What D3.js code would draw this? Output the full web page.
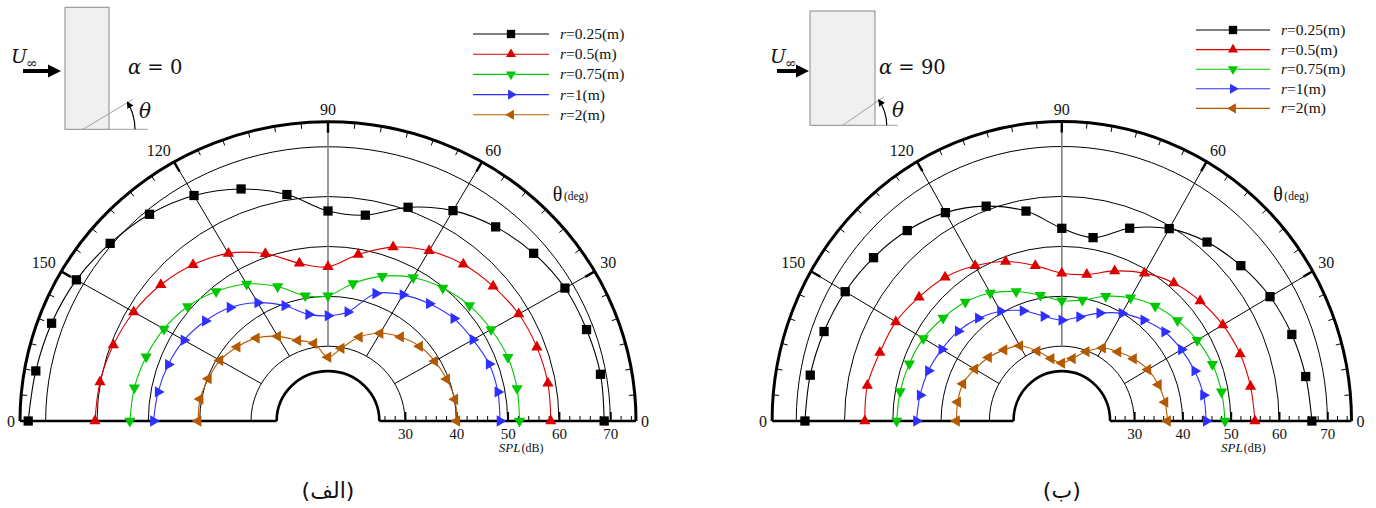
<!DOCTYPE html>
<html>
<head>
<meta charset="utf-8">
<script src="https://cdn.jsdelivr.net/npm/d3@7"></script>
<style>
  body { margin: 0; background: #fff; }
  svg { display: block; font-family: "Liberation Serif", "Times New Roman", serif; }
  text { fill: #111; }
</style>
</head>
<body>
<svg id="fig" width="1376" height="508"></svg>
<script>
// ---- data -------------------------------------------------------------
// observer angle theta (deg), one value per marker
const angles = [0, 10, 20, 30, 40, 50, 60, 70, 80, 90, 100, 110, 120, 130, 140, 150, 160, 170, 180];

// SPL (dB) at each angle, alpha = 0
const a0_r025 = [68.8, 68.9, 68.6, 68.3, 67.3, 65.8, 63.7, 60.6, 56.9, 57.1, 61.1, 64.5, 67.2, 69.1, 70.4, 71.6, 72.3, 72.8, 73.4];
const a0_r05  = [58.4, 58.5, 58.3, 57.9, 57.0, 56.0, 54.4, 52.1, 48.9, 45.9, 47.1, 50.7, 53.8, 55.9, 57.5, 58.7, 59.5, 60.1, 60.4];
const a0_r075 = [52.3, 52.4, 52.3, 51.7, 51.0, 49.8, 48.2, 45.9, 43.0, 40.1, 40.5, 43.7, 46.7, 48.9, 50.7, 51.9, 52.7, 53.3, 53.6];
const a0_r1   = [48.5, 48.6, 48.4, 47.6, 47.0, 45.7, 44.2, 42.2, 37.2, 36.1, 36.7, 39.6, 42.4, 44.7, 46.2, 47.4, 48.1, 48.6, 49.0];
const a0_r2   = [40.1, 40.1, 39.6, 39.0, 38.3, 37.0, 35.3, 32.9, 29.8, 27.8, 30.8, 32.2, 34.6, 36.7, 38.1, 39.3, 39.8, 40.3, 40.3];

// SPL (dB) at each angle, alpha = 90
const a90_r025 = [66.8, 66.3, 65.7, 64.8, 63.4, 61.8, 59.5, 56.1, 52.3, 53.6, 57.7, 60.8, 63.2, 64.8, 65.9, 66.8, 67.4, 67.9, 68.2];
const a90_r05  = [55.0, 54.7, 54.3, 53.5, 52.4, 51.1, 49.2, 47.0, 44.8, 44.6, 46.6, 49.0, 50.9, 52.6, 53.6, 54.7, 55.1, 55.9, 55.8];
const a90_r075 = [48.8, 48.6, 48.2, 47.4, 46.3, 45.1, 43.5, 41.6, 39.6, 39.1, 40.6, 42.6, 44.6, 46.1, 47.1, 48.1, 48.6, 49.0, 49.2];
const a90_r1   = [44.9, 44.8, 44.3, 43.6, 42.8, 41.4, 39.9, 38.0, 36.2, 35.2, 36.3, 38.5, 40.4, 41.9, 43.0, 43.7, 44.4, 44.8, 45.1];
const a90_r2   = [36.9, 36.7, 36.3, 35.6, 34.4, 33.1, 31.9, 29.8, 27.7, 26.6, 27.7, 29.9, 32.4, 33.6, 34.8, 35.8, 36.8, 36.9, 36.8];

const seriesNames = ["0.25", "0.5", "0.75", "1", "2"];

// axes
const splDomain   = [25, 75];
const splGrid     = [30, 40, 50, 60, 70];
const splTicks    = [30, 40, 50, 60, 70];
const splMinor    = [26, 28, 32, 34, 36, 38, 42, 44, 46, 48, 52, 54, 56, 58, 62, 64, 66, 68, 72, 74];
const spokeAngles = [30, 60, 90, 120, 150];
const angleTicks  = [0, 30, 60, 90, 120, 150, 180];
const angleLabels = ["0", "30", "60", "90", "120", "150", "0"];
const angleMinor  = [5, 10, 15, 20, 25, 35, 40, 45, 50, 55, 65, 70, 75, 80, 85, 95, 100, 105, 110, 115, 125, 130, 135, 140, 145, 155, 160, 165, 170, 175];

// ---- styles -------------------------------------------------------------
const colors  = ["#000000", "#dc0000", "#00c800", "#2f2fff", "#b35a00"];
const symbols = [
  { type: d3.symbolSquare,   size: 86, rot: 0 },
  { type: d3.symbolTriangle, size: 55, rot: 0 },
  { type: d3.symbolTriangle, size: 55, rot: 180 },
  { type: d3.symbolTriangle, size: 55, rot: 90 },
  { type: d3.symbolTriangle, size: 55, rot: -90 }
];

const panels = [
  { cx: 328, cy: 421, Rx: 308, Ry: 299.3,
    data: [a0_r025, a0_r05, a0_r075, a0_r1, a0_r2],
    legend: { x0: 473, x1: 549, xt: 560, y0: 34, dy: 20.2 },
    title: "(الف)" },
  { cx: 1061.8, cy: 421, Rx: 289.7, Ry: 299.5,
    data: [a90_r025, a90_r05, a90_r075, a90_r1, a90_r2],
    legend: { x0: 1196, x1: 1270, xt: 1281, y0: 30, dy: 19.6 },
    title: "(ب)" }
];

const svg = d3.select("#fig");
const toRad = d3.scaleLinear().domain([0, 180]).range([0, Math.PI]);

function drawPanel(p) {
  const g = svg.append("g");
  const rx = d3.scaleLinear().domain(splDomain).range([p.Rx / 6, p.Rx]);
  const ry = d3.scaleLinear().domain(splDomain).range([p.Ry / 6, p.Ry]);
  const px = (deg, v) => p.cx + rx(v) * Math.cos(toRad(deg));
  const py = (deg, v) => p.cy - ry(v) * Math.sin(toRad(deg));
  const halfEllipse = v =>
    `M${p.cx + rx(v)},${p.cy}A${rx(v)},${ry(v)} 0 0 0 ${p.cx - rx(v)},${p.cy}`;

  // circular grid
  g.append("g").selectAll("path").data(splGrid).join("path")
    .attr("d", halfEllipse).attr("fill", "none")
    .attr("stroke", "#000").attr("stroke-width", 1);

  // radial grid lines
  g.append("g").selectAll("line").data(spokeAngles).join("line")
    .attr("x1", d => px(d, splGrid[0])).attr("y1", d => py(d, splGrid[0]))
    .attr("x2", d => px(d, splDomain[1])).attr("y2", d => py(d, splDomain[1]))
    .attr("stroke", d => d === 90 ? "#808080" : "#000")
    .attr("stroke-width", d => d === 90 ? 1.6 : 1);

  // outer and inner boundaries
  g.append("path").attr("d", halfEllipse(splDomain[1]))
    .attr("fill", "none").attr("stroke", "#000").attr("stroke-width", 3);
  g.append("path").attr("d", halfEllipse(splDomain[0]))
    .attr("fill", "none").attr("stroke", "#000").attr("stroke-width", 2.6);

  // ticks on the outer boundary (pointing inward)
  const tickAt = (deg, len) => {
    const a = toRad(deg);
    return {
      x1: p.cx + rx(splDomain[1]) * Math.cos(a), y1: p.cy - ry(splDomain[1]) * Math.sin(a),
      x2: p.cx + (rx(splDomain[1]) - len) * Math.cos(a), y2: p.cy - (ry(splDomain[1]) - len) * Math.sin(a)
    };
  };
  g.append("g").selectAll("line").data(angleMinor).join("line")
    .each(function (d) { const t = tickAt(d, 6); d3.select(this).attr("x1", t.x1).attr("y1", t.y1).attr("x2", t.x2).attr("y2", t.y2); })
    .attr("stroke", "#000").attr("stroke-width", 1);
  g.append("g").selectAll("line").data(spokeAngles).join("line")
    .each(function (d) { const t = tickAt(d, 11); d3.select(this).attr("x1", t.x1).attr("y1", t.y1).attr("x2", t.x2).attr("y2", t.y2); })
    .attr("stroke", "#000").attr("stroke-width", 2.4);

  // angle labels
  g.append("g").selectAll("text").data(angleTicks).join("text")
    .attr("font-size", 16)
    .each(function (d, i) {
      const a = toRad(d), off = 6.5;
      const x0 = px(d, splDomain[1]), y0 = py(d, splDomain[1]);
      const t = d3.select(this).text(angleLabels[i]);
      if (d === 0) t.attr("x", x0 + 5).attr("y", p.cy + 6).attr("text-anchor", "start");
      else if (d === 180) t.attr("x", x0 - 5).attr("y", p.cy + 6).attr("text-anchor", "end");
      else t.attr("x", x0 + off * Math.cos(a)).attr("y", y0 - off * Math.sin(a))
            .attr("text-anchor", d < 90 ? "start" : d > 90 ? "end" : "middle");
    });

  // theta caption
  const th = g.append("text").attr("x", p.cx + 0.73 * p.Rx).attr("y", 201);
  th.append("tspan").attr("font-size", 20).text("θ");
  th.append("tspan").attr("font-size", 11.5).attr("dx", 1.5).attr("dy", -1.5).text("(deg)");

  // SPL axis along the baseline
  const xAxisScale = d3.scaleLinear().domain(splDomain).range([p.cx + rx(25), p.cx + rx(75)]);
  const major = g.append("g").attr("transform", `translate(0,${p.cy})`)
    .call(d3.axisBottom(xAxisScale).tickValues(splTicks).tickSize(-9).tickPadding(7.5).tickFormat(d3.format("d")));
  major.select(".domain").remove();
  major.selectAll("line").attr("stroke", "#000").attr("stroke-width", 1.8);
  major.selectAll("text").attr("font-size", 15).attr("font-family", "Liberation Serif").attr("fill", "#111");
  const minor = g.append("g").attr("transform", `translate(0,${p.cy})`)
    .call(d3.axisBottom(xAxisScale).tickValues(splMinor).tickSize(-5).tickFormat(""));
  minor.select(".domain").remove();
  minor.selectAll("line").attr("stroke", "#000").attr("stroke-width", 1);

  // thick baseline on both sides of the hole
  g.append("line").attr("x1", p.cx - rx(75)).attr("x2", p.cx - rx(25))
    .attr("y1", p.cy).attr("y2", p.cy).attr("stroke", "#000").attr("stroke-width", 2.6);
  g.append("line").attr("x1", p.cx + rx(25)).attr("x2", p.cx + rx(75))
    .attr("y1", p.cy).attr("y2", p.cy).attr("stroke", "#000").attr("stroke-width", 2.6);

  const spl = g.append("text").attr("x", p.cx + 0.627 * p.Rx).attr("y", p.cy + 31).attr("text-anchor", "middle");
  spl.append("tspan").attr("font-style", "italic").attr("font-size", 13).text("SPL");
  spl.append("tspan").attr("font-size", 12).attr("dx", 1).text("(dB)");

  // series curves
  const line = d3.line()
    .x((v, i) => px(angles[i], v))
    .y((v, i) => py(angles[i], v))
    .curve(d3.curveCatmullRom.alpha(0.5));
  p.data.forEach((vals, s) => {
    g.append("path").attr("d", line(vals)).attr("fill", "none")
      .attr("stroke", colors[s]).attr("stroke-width", 1.1);
    const sym = d3.symbol().type(symbols[s].type).size(symbols[s].size);
    g.append("g").selectAll("path").data(vals).join("path")
      .attr("d", sym)
      .attr("transform", (v, i) => `translate(${px(angles[i], v)},${py(angles[i], v)}) rotate(${symbols[s].rot})`)
      .attr("fill", colors[s]);
  });

  // legend
  const L = p.legend;
  seriesNames.forEach((name, s) => {
    const y = L.y0 + s * L.dy;
    g.append("line").attr("x1", L.x0).attr("x2", L.x1).attr("y1", y).attr("y2", y)
      .attr("stroke", colors[s]).attr("stroke-width", 1.1);
    const sym = d3.symbol().type(symbols[s].type).size(symbols[s].size * 0.8);
    g.append("path").attr("d", sym)
      .attr("transform", `translate(${(L.x0 + L.x1) / 2},${y}) rotate(${symbols[s].rot})`)
      .attr("fill", colors[s]);
    const t = g.append("text").attr("x", L.xt).attr("y", y + 5).attr("font-size", 15.5);
    t.append("tspan").attr("font-style", "italic").text("r");
    t.append("tspan").text("=" + name + "(m)");
  });

  // panel title
  g.append("text").attr("x", p.cx).attr("y", 498).attr("text-anchor", "middle")
    .attr("font-size", 22).attr("font-family", "DejaVu Sans").text(p.title);
}

panels.forEach(drawPanel);

// ---- flow sketches ----------------------------------------------------------
const sketches = [
  { rect: [65, 7.3, 44, 122], arrow: [23, 61, 71], U: [11, 63], alpha: [128, 74, "0"],
    origin: [83, 129.3], armDeg: 31, armLen: 58, base: [109, 148], arcR: 52, theta: [139, 118] },
  { rect: [810, 11, 65, 114.3], arrow: [777, 809, 71], U: [770, 63], alpha: [879, 74, "90"],
    origin: [842.7, 125.3], armDeg: 34.7, armLen: 50, base: [875, 898], arcR: 44, theta: [892, 117] }
];

const defs = svg.append("defs");
defs.append("marker").attr("id", "arcHead").attr("viewBox", "0 0 10 10")
  .attr("refX", 8).attr("refY", 5).attr("markerWidth", 7).attr("markerHeight", 7)
  .attr("orient", "auto").attr("markerUnits", "userSpaceOnUse")
  .append("path").attr("d", "M0,0L10,5L0,10Z").attr("fill", "#000");

sketches.forEach(k => {
  const g = svg.append("g");
  g.append("rect").attr("x", k.rect[0]).attr("y", k.rect[1]).attr("width", k.rect[2]).attr("height", k.rect[3])
    .attr("fill", "#f0f0f0").attr("stroke", "#8a8a8a").attr("stroke-width", 1);
  // free-stream arrow
  const [ax0, ax1, ay] = k.arrow;
  g.append("line").attr("x1", ax0).attr("x2", ax1 - 12).attr("y1", ay).attr("y2", ay)
    .attr("stroke", "#000").attr("stroke-width", 4);
  g.append("path").attr("d", `M${ax1},${ay}L${ax1 - 13},${ay - 6.5}L${ax1 - 13},${ay + 6.5}Z`).attr("fill", "#000");
  const u = g.append("text").attr("x", k.U[0]).attr("y", k.U[1]).attr("font-size", 19)
    .attr("font-family", "DejaVu Serif");
  u.append("tspan").attr("font-style", "italic").text("U");
  u.append("tspan").attr("font-size", 14).attr("dy", 5).attr("dx", -1).text("∞");
  const al = g.append("text").attr("x", k.alpha[0]).attr("y", k.alpha[1]).attr("font-size", 19.5)
    .attr("font-family", "DejaVu Serif");
  al.append("tspan").attr("font-style", "italic").text("α");
  al.append("tspan").text(" = " + k.alpha[2]);
  // observer direction and reference line
  const [ox, oy] = k.origin;
  const arm = k.armDeg * Math.PI / 180;
  g.append("line").attr("x1", ox).attr("y1", oy)
    .attr("x2", ox + k.armLen * Math.cos(arm)).attr("y2", oy - k.armLen * Math.sin(arm))
    .attr("stroke", "#a0a0a0").attr("stroke-width", 1);
  g.append("line").attr("x1", k.base[0]).attr("x2", k.base[1]).attr("y1", oy).attr("y2", oy)
    .attr("stroke", "#a0a0a0").attr("stroke-width", 1);
  g.append("path")
    .attr("d", `M${ox + k.arcR},${oy}A${k.arcR},${k.arcR} 0 0 0 ${ox + k.arcR * Math.cos(arm)},${oy - k.arcR * Math.sin(arm)}`)
    .attr("fill", "none").attr("stroke", "#000").attr("stroke-width", 1.2)
    .attr("marker-end", "url(#arcHead)");
  g.append("text").attr("x", k.theta[0]).attr("y", k.theta[1]).attr("font-size", 20)
    .attr("font-family", "DejaVu Serif").attr("font-style", "italic").text("θ");
});
</script>
</body>
</html>
